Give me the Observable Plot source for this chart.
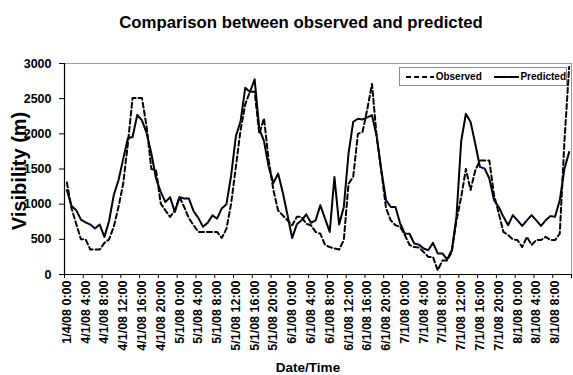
<!DOCTYPE html>
<html><head><meta charset="utf-8">
<script src="https://cdn.jsdelivr.net/npm/d3@7"></script>
<script src="https://cdn.jsdelivr.net/npm/@observablehq/plot@0.6"></script>
<style>
body{margin:0;background:#fff;}
#wrap{position:relative;width:573px;height:375px;font-family:"Liberation Sans",Arial,sans-serif;}
#legend{position:absolute;left:399px;top:67px;width:168px;height:19px;border:1px solid #8c8c8c;background:#fff;box-sizing:border-box;font-weight:bold;font-size:10px;display:flex;align-items:center;color:#000;}
#legend svg{display:block;}
</style></head><body><div id="wrap"></div>
<script>
const tickLabels = ["1/4/08 0:00","4/1/08 4:00","4/1/08 8:00","4/1/08 12:00","4/1/08 16:00","4/1/08 20:00",
  "5/1/08 0:00","5/1/08 4:00","5/1/08 8:00","5/1/08 12:00","5/1/08 16:00","5/1/08 20:00",
  "6/1/08 0:00","6/1/08 4:00","6/1/08 8:00","6/1/08 12:00","6/1/08 16:00","6/1/08 20:00",
  "7/1/08 0:00","7/1/08 4:00","7/1/08 8:00","7/1/08 12:00","7/1/08 16:00","7/1/08 20:00",
  "8/1/08 0:00","8/1/08 4:00","8/1/08 8:00"];
const yTicks = [0, 500, 1000, 1500, 2000, 2500, 3000];
const observed = [1310,940,720,500,500,355,355,355,450,500,680,960,1290,1860,2510,2510,2510,2100,1500,1480,
  1010,910,820,910,1100,960,800,700,605,605,605,605,605,520,650,1010,1530,2050,2420,2600,
  2600,2000,2220,1620,1200,910,840,770,700,820,820,720,700,605,580,420,390,370,355,490,
  1290,1390,2000,2030,2350,2710,1960,1460,940,770,700,680,560,420,390,385,320,250,250,60,
  200,200,320,770,1100,1500,1200,1480,1620,1620,1620,1130,870,605,560,500,490,390,535,420,
  490,490,535,490,490,580,1900,2950];
const predicted = [1200,975,915,780,740,710,655,710,535,760,1130,1340,1640,1940,1955,2270,2190,2010,1720,1365,
  1175,1030,1100,890,1100,1080,1080,900,805,680,735,840,795,940,1000,1410,1965,2175,2655,2595,
  2775,2070,1895,1530,1300,1435,1165,845,520,715,770,855,735,770,985,795,605,1385,710,960,
  1720,2170,2215,2205,2235,2265,1965,1480,1055,960,960,725,580,580,440,425,370,345,450,300,
  300,215,345,820,1895,2285,2170,1860,1530,1505,1365,1055,960,820,700,845,770,690,770,845,
  770,690,770,830,820,1055,1505,1740];
const title = "Comparison between observed and predicted";

const rows = observed.map((o, i) => ({x: i + 0.5, observed: o, predicted: predicted[i]}));
const tickPos = d3.range(0, 109, 4);
const labelPos = tickLabels.map((_, k) => 4 * k + 0.5);
const font = "'Liberation Sans', Arial, sans-serif";

const chart = Plot.plot({
  width: 573, height: 375,
  marginLeft: 64, marginRight: 2, marginTop: 63, marginBottom: 101,
  style: {fontFamily: font, background: "white", color: "black", overflow: "visible"},
  x: {domain: [0, 108], axis: null},
  y: {domain: [0, 3000], axis: null},
  marks: [
    Plot.frame({stroke: "#9a9a9a"}),
    Plot.axisY({ticks: yTicks, tickSize: 5, tickPadding: 8, fontSize: 12.5, fontWeight: "bold", label: null, tickFormat: d => String(d)}),
    Plot.axisX({ticks: tickPos, tickSize: 4, tickFormat: () => "", label: null}),
    Plot.axisX({ticks: labelPos, tickSize: 0, tickPadding: 6, tickRotate: -90, fontSize: 12.5, fontWeight: "bold", label: null,
      tickFormat: d => tickLabels[Math.round((d - 0.5) / 4)]}),
    Plot.ruleX([0], {stroke: "black", strokeWidth: 1.2}),
    Plot.ruleY([0], {stroke: "black", strokeWidth: 1.2}),
    Plot.line(rows, {x: "x", y: "observed", stroke: "black", strokeWidth: 2, strokeDasharray: "5,3"}),
    Plot.line(rows, {x: "x", y: "predicted", stroke: "black", strokeWidth: 2}),
    Plot.dot(rows, {x: "x", y: "predicted", r: 0.8, fill: "#1c1ca8", stroke: null}),
    Plot.text([title], {frameAnchor: "top", dy: -47, dx: -17, fontSize: 16.8, fontWeight: "bold", textAnchor: "middle"}),
    Plot.text(["Visibility (m)"], {frameAnchor: "left", dx: -45, dy: 2, rotate: -90, fontSize: 20, fontWeight: "bold", textAnchor: "middle"}),
    Plot.text(["Date/Time"], {frameAnchor: "bottom", dy: 97, dx: -10, fontSize: 13.5, fontWeight: "bold", textAnchor: "middle"})
  ]
});
const wrap = document.getElementById("wrap");
wrap.appendChild(chart);

const legend = document.createElement("div");
legend.id = "legend";
legend.innerHTML =
  '<svg width="28" height="10" style="margin-left:6px"><line x1="0" y1="5" x2="28" y2="5" stroke="black" stroke-width="2" stroke-dasharray="5,3"/></svg>' +
  '<span style="margin-left:2px">Observed</span>' +
  '<svg width="26" height="10" style="margin-left:12px"><line x1="0" y1="5" x2="26" y2="5" stroke="black" stroke-width="2"/><circle cx="13" cy="5" r="0.8" fill="#1c1ca8"/></svg>' +
  '<span style="margin-left:1px">Predicted</span>';
wrap.appendChild(legend);
</script>
</body></html>
